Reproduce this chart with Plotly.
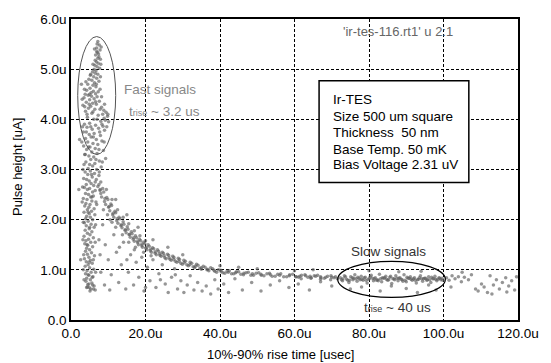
import plotly.graph_objects as go

# ---------------- data (rise time in usec, pulse height in uA) ----------------
fast_x = [7.2, 7.6, 6.9, 7.8, 7.1, 6.6, 7.5, 7.9, 6.8, 7.3, 6.4, 7.0, 7.7, 6.2, 6.7, 7.4, 8.1, 6.5, 7.2, 6.9,
          5.8, 6.5, 7.2, 5.2, 6.1, 6.9, 4.8, 5.6, 7.5, 6.3, 4.5, 5.9, 6.7, 5.1, 7.8, 4.2, 6.0, 5.4, 6.6, 3.8,
          4.6, 5.5, 7.0, 3.5, 6.2, 5.0, 7.6, 4.1, 5.8, 6.8, 3.2, 5.3, 8.2, 4.7, 6.4, 8.8, 3.9, 9.4, 5.6, 8.5,
          7.3, 9.8, 4.4, 8.9, 6.1, 9.2, 8.0, 10.1,
          5.0, 3.6, 6.6, 8.6, 4.3, 7.4, 5.7, 9.0, 3.3, 6.2, 4.9, 7.9, 5.4, 3.9, 6.8, 8.3, 4.5, 5.9, 7.2, 3.4,
          5.1, 6.5, 4.2, 8.7, 5.6, 7.0, 3.7, 4.8, 6.1, 9.3, 5.3, 7.6, 4.0, 6.4, 3.5, 5.8, 8.1, 4.6, 6.9]
fast_y = [5.55, 5.48, 5.42, 5.38, 5.33, 5.28, 5.25, 5.20, 5.15, 5.12, 5.08, 5.05, 5.02, 5.00, 4.97, 5.30, 5.44, 5.18, 5.22, 5.35,
          4.95, 4.92, 4.90, 4.88, 4.85, 4.82, 4.80, 4.78, 4.76, 4.73, 4.70, 4.68, 4.65, 4.62, 4.60, 4.58, 4.56, 4.53, 4.51, 4.50,
          4.48, 4.46, 4.45, 4.43, 4.41, 4.39, 4.36, 4.34, 4.32, 4.30, 4.28, 4.26, 4.24, 4.22, 4.20, 4.18, 4.16, 4.14, 4.12, 4.10,
          4.08, 4.06, 4.04, 4.02, 4.00, 3.98, 3.96, 3.95,
          3.92, 3.90, 3.88, 3.86, 3.84, 3.82, 3.80, 3.78, 3.75, 3.72, 3.70, 3.68, 3.65, 3.62, 3.60, 3.57, 3.55, 3.52, 3.50, 3.47,
          3.45, 3.42, 3.40, 3.38, 3.35, 3.32, 3.30, 3.27, 3.25, 3.22, 3.20, 3.17, 3.15, 3.12, 3.10, 3.07, 3.05, 3.02, 3.00]

fast2_x = [6.3, 7.0, 5.9, 8.0, 5.3, 7.9, 4.0, 6.8, 3.6, 7.3, 5.0, 8.2, 3.0, 6.6, 4.9, 9.0, 3.7, 7.8, 5.9, 9.9,
           4.3, 7.0, 8.3, 3.1, 5.3, 9.6, 4.1, 7.7, 6.0, 2.9, 8.9, 4.7, 7.5, 3.8, 6.7, 5.0, 8.4, 3.2, 7.6, 5.5,
           4.2, 6.5, 3.1, 7.8, 5.6, 3.0, 6.9, 4.6, 3.3, 6.6, 5.0, 3.2, 6.5, 4.3, 3.4, 6.0, 4.9, 3.3, 6.6, 4.6,
           3.5, 5.7, 4.8, 6.0, 5.1, 4.2]
fast2_y = [5.40, 5.50, 5.10, 5.10, 4.90, 4.85, 4.75, 4.70, 4.60, 4.55, 4.50, 4.45, 4.40, 4.35, 4.30, 4.30, 4.25, 4.20, 4.15, 4.10,
           4.10, 4.00, 3.90, 3.85, 3.85, 3.85, 3.75, 3.75, 3.65, 3.55, 3.55, 3.45, 3.40, 3.30, 3.20, 3.10, 3.15, 3.00, 2.95, 2.90,
           2.80, 2.75, 2.65, 2.60, 2.45, 2.35, 2.30, 2.15, 1.95, 1.90, 1.85, 1.60, 1.55, 1.50, 1.30, 1.20, 1.15, 1.00, 0.95, 0.90,
           0.80, 0.85, 0.72, 0.62, 0.58, 0.65]

stem_x = [5.2, 3.8, 6.3, 4.5, 7.5, 5.7, 3.4, 6.8, 4.9, 8.0, 5.4, 4.1, 6.1, 7.2, 3.6, 5.0, 4.4, 6.5, 5.8, 3.9,
          4.7, 6.0, 5.3, 3.3, 4.3, 5.6, 6.7, 4.0, 5.1, 3.7, 4.8, 6.2, 4.4, 5.5, 3.5, 4.9, 6.4, 4.2, 5.2, 3.9, 5.8,
          4.6, 3.6, 5.4, 4.1, 6.2, 4.9, 3.8, 5.6, 4.4, 5.1, 3.5, 6.0, 4.7, 4.0, 5.3, 3.7, 4.5, 5.8, 4.2, 5.0,
          3.9, 5.5, 4.4, 6.3, 4.8, 3.6, 5.2, 4.1, 5.7, 4.6, 3.8, 5.0, 6.1, 4.3, 5.4, 3.9, 4.8, 5.9, 4.2, 5.2,
          4.0, 5.6, 4.5, 6.2, 4.9, 5.3, 6.5, 4.4, 5.8, 2.3, 2.6, 2.1, 2.8]
stem_y = [2.97, 2.95, 2.92, 2.90, 2.88, 2.85, 2.82, 2.80, 2.77, 2.75, 2.72, 2.70, 2.68, 2.66, 2.64, 2.62, 2.60, 2.58, 2.55, 2.52,
          2.50, 2.47, 2.45, 2.42, 2.40, 2.37, 2.35, 2.32, 2.30, 2.27, 2.25, 2.22, 2.20, 2.17, 2.15, 2.12, 2.10, 2.07, 2.05, 2.02, 2.00,
          1.97, 1.94, 1.91, 1.88, 1.85, 1.82, 1.79, 1.76, 1.73, 1.70, 1.67, 1.64, 1.61, 1.58, 1.55, 1.52, 1.49, 1.46, 1.43, 1.40,
          1.37, 1.34, 1.31, 1.28, 1.25, 1.22, 1.19, 1.16, 1.13, 1.10, 1.07, 1.04, 1.01, 0.98, 0.95, 0.92, 0.89, 0.86, 0.83, 0.80,
          0.77, 0.74, 0.71, 0.68, 0.65, 0.62, 0.60, 0.66, 0.70, 3.60, 1.20, 2.60, 4.70]

decay_x = [7.5, 8.2, 8.8, 9.3, 9.9, 10.4, 10.9, 11.5, 12.0, 12.6, 13.1, 13.7, 14.2, 14.8, 15.3, 15.9, 16.4, 17.0, 17.6, 18.1,
           18.7, 19.2, 19.8, 20.4, 21.0, 21.6, 22.2, 22.9, 23.5, 24.2, 24.8, 25.5, 26.2, 26.9, 27.6, 28.4, 29.1, 29.9, 30.7, 31.5,
           32.4, 33.2, 34.1, 35.0, 36.0, 37.0, 38.0, 39.1, 40.2, 41.3, 42.5, 43.7, 45.0, 46.3, 47.6, 49.0, 50.4, 51.8, 53.3, 54.8,
           56.3, 57.9, 59.5, 61.1, 62.8, 64.5, 66.2, 68.0, 69.8, 71.5]
decay_y = [2.70, 2.45, 2.55, 2.30, 2.40, 2.18, 2.28, 2.05, 2.14, 1.93, 2.02, 1.84, 1.91, 1.74, 1.81, 1.65, 1.72, 1.57, 1.64, 1.50,
           1.58, 1.45, 1.52, 1.40, 1.47, 1.35, 1.42, 1.30, 1.37, 1.27, 1.33, 1.22, 1.29, 1.19, 1.25, 1.15, 1.21, 1.11, 1.17, 1.08,
           1.13, 1.04, 1.09, 1.01, 1.05, 0.98, 1.02, 0.95, 0.99, 0.93, 0.98, 0.92, 0.96, 0.90, 0.95, 0.89, 0.94, 0.88, 0.93, 0.87,
           0.92, 0.86, 0.91, 0.85, 0.90, 0.84, 0.89, 0.83, 0.88, 0.82]

decay2_x = [7.8, 8.5, 9.0, 9.6, 10.1, 10.7, 11.2, 11.8, 12.3, 12.9, 13.4, 14.0, 14.5, 15.1, 15.6, 16.2, 16.7, 17.3, 17.9, 18.4,
            19.0, 19.5, 20.1, 20.7, 21.3, 21.9, 22.6, 23.2, 23.9, 24.5, 25.2, 25.9, 26.6, 27.3, 28.0, 28.8, 29.5, 30.3, 31.1, 32.0,
            32.8, 33.7, 34.6, 35.5, 36.5, 37.5, 38.6, 39.6, 40.8, 41.9, 43.1, 44.4, 45.6, 47.0, 48.3, 49.7, 51.1, 52.6, 54.0, 55.5,
            57.1, 58.7, 60.3, 61.9, 63.6, 65.3, 67.1, 68.9, 70.6]
decay2_y = [2.58, 2.62, 2.36, 2.44, 2.25, 2.31, 2.10, 2.17, 1.98, 2.05, 1.88, 1.96, 1.79, 1.86, 1.70, 1.76, 1.61, 1.68, 1.54, 1.61,
            1.48, 1.55, 1.43, 1.50, 1.38, 1.44, 1.33, 1.40, 1.29, 1.35, 1.24, 1.31, 1.21, 1.27, 1.17, 1.23, 1.13, 1.19, 1.10, 1.15,
            1.06, 1.11, 1.03, 1.07, 1.00, 1.04, 0.97, 1.00, 0.94, 0.97, 0.92, 0.96, 0.91, 0.94, 0.89, 0.93, 0.89, 0.92, 0.87, 0.91,
            0.86, 0.90, 0.86, 0.89, 0.85, 0.88, 0.84, 0.87, 0.84]

decay3_x = [8.0, 9.1, 10.2, 11.3, 12.4, 13.5, 14.6, 15.7, 16.8, 17.9, 19.0, 20.2, 21.4, 22.6, 23.8, 25.0, 26.3, 27.6, 29.0, 30.4,
            31.9, 33.4, 35.0, 36.7, 38.4, 40.3, 42.2, 44.2, 46.4, 48.7, 51.0, 53.5, 56.0, 58.6, 61.4, 64.2, 67.0, 70.0,
            9.5, 11.0, 12.5, 14.0, 15.5, 17.0, 18.5, 20.0, 8.7, 10.5, 12.0, 13.8, 15.5, 17.3, 19.5, 21.5]
decay3_y = [2.52, 2.42, 2.26, 2.13, 2.02, 1.90, 1.80, 1.71, 1.64, 1.57, 1.51, 1.45, 1.41, 1.36, 1.32, 1.28, 1.24, 1.21, 1.17, 1.14,
            1.10, 1.07, 1.04, 1.01, 0.99, 0.96, 0.95, 0.94, 0.93, 0.92, 0.91, 0.90, 0.89, 0.88, 0.87, 0.87, 0.86, 0.85,
            2.60, 2.40, 2.20, 2.05, 1.92, 1.78, 1.68, 1.58, 2.20, 2.00, 1.85, 1.70, 1.55, 1.45, 1.35, 1.28]

slow_x = [72.3, 72.9, 73.4, 74.0, 74.6, 75.1, 75.7, 76.2, 76.8, 77.3, 77.9, 78.4, 79.0, 79.5, 80.1, 80.6, 81.2, 81.7, 82.3, 82.8,
          83.4, 83.9, 84.5, 85.0, 85.6, 86.1, 86.7, 87.2, 87.8, 88.3, 88.9, 89.4, 90.0, 90.5, 91.1, 91.6, 92.2, 92.7, 93.3, 93.8,
          94.4, 94.9, 95.5, 96.0, 96.6, 97.1, 97.7, 98.2, 98.8, 99.3,
          72.6, 73.7, 74.8, 75.9, 77.0, 78.1, 79.2, 80.3, 81.4, 82.5, 83.6, 84.7, 85.8, 86.9, 88.0, 89.1, 90.2, 91.3, 92.4, 93.5,
          94.6, 95.7, 96.8, 97.9, 99.0, 99.8]
slow_y = [0.84, 0.78, 0.88, 0.81, 0.75, 0.86, 0.80, 0.90, 0.77, 0.83, 0.87, 0.79, 0.85, 0.74, 0.82, 0.89, 0.78, 0.84, 0.80, 0.91,
          0.76, 0.83, 0.87, 0.79, 0.85, 0.73, 0.82, 0.88, 0.78, 0.84, 0.80, 0.90, 0.76, 0.83, 0.86, 0.79, 0.84, 0.74, 0.81, 0.88,
          0.77, 0.83, 0.79, 0.86, 0.75, 0.82, 0.87, 0.78, 0.84, 0.80,
          0.80, 0.86, 0.79, 0.83, 0.85, 0.81, 0.79, 0.86, 0.82, 0.78, 0.84, 0.81, 0.87, 0.80, 0.83, 0.77, 0.85, 0.81, 0.79, 0.84,
          0.82, 0.80, 0.85, 0.81, 0.83, 0.79]

slow2_x = [60.5, 61.8, 63.0, 64.4, 65.7, 67.0, 68.4, 69.7, 71.0, 73.0, 74.3, 75.5, 76.5, 77.6, 78.7, 79.8, 80.9, 82.0, 83.1, 84.2,
           85.3, 86.4, 87.5, 88.6, 89.7, 90.8, 91.9, 93.0, 94.1, 95.2, 96.3, 97.4, 98.5, 99.6]
slow2_y = [0.86, 0.82, 0.88, 0.83, 0.87, 0.81, 0.85, 0.80, 0.86, 0.82, 0.79, 0.84, 0.82, 0.80, 0.84, 0.81, 0.83, 0.79, 0.82, 0.84,
           0.80, 0.82, 0.83, 0.81, 0.79, 0.83, 0.82, 0.80, 0.82, 0.83, 0.80, 0.82, 0.81, 0.83]

sparse_x = [8.5, 9.2, 10.0, 10.8, 11.5, 12.2, 12.8, 13.5, 14.1, 14.7, 15.4, 16.0, 16.8, 17.5, 18.2, 19.0, 19.6, 20.5, 21.2, 22.0,
            22.8, 23.6, 24.5, 25.3, 26.1, 27.0, 27.8, 28.6, 29.5, 30.3, 31.2, 32.0, 33.0, 34.0, 35.2, 36.3, 37.5, 38.6, 39.5, 41.0,
            42.3, 44.0, 46.0, 48.5, 51.0, 53.5, 56.0, 58.5, 61.0, 64.0, 67.0, 70.0, 9.8, 11.0, 13.0, 15.0, 17.0, 20.0, 24.0, 28.0,
            10.4, 7.5, 8.0, 7.8, 9.0, 12.0, 15.0, 18.0, 22.0, 26.0, 30.0, 40.0, 50.0, 60.0, 65.0, 45.0,
            75.0, 78.0, 83.0, 86.0, 90.0, 93.0, 96.0, 98.0, 88.0, 80.0, 94.0]
sparse_y = [1.90, 1.50, 1.20, 0.90, 1.70, 1.35, 0.75, 1.10, 1.55, 0.62, 0.95, 1.30, 0.70, 1.15, 0.85, 1.25, 0.58, 1.05, 0.78, 1.20,
            0.65, 0.92, 1.10, 0.72, 0.55, 0.85, 1.02, 0.62, 0.78, 0.55, 0.70, 0.88, 0.60, 0.75, 0.58, 0.68, 0.52, 0.80, 0.62, 0.72,
            0.55, 0.82, 0.60, 0.75, 0.58, 0.70, 0.78, 0.65, 0.72, 0.60, 0.76, 0.68, 2.10, 1.95, 1.45, 1.20, 1.40, 0.65, 0.80, 0.90,
            0.60, 1.60, 0.95, 1.30, 0.70, 2.40, 2.10, 1.85, 1.60, 1.45, 1.30, 1.08, 1.02, 0.98, 1.00, 1.05,
            0.62, 0.66, 0.58, 0.68, 0.63, 0.55, 0.70, 0.60, 0.96, 0.98, 0.97]

far_x = [100.8, 101.5, 102.3, 103.1, 104.0, 104.8, 105.6, 106.7, 107.5, 108.6, 109.3, 110.2, 110.9, 111.8, 112.5, 113.4,
         114.2, 115.0, 115.8, 116.7, 117.5, 118.3, 119.1, 119.6, 105.0, 113.0, 102.0, 117.0]
far_y = [0.84, 0.79, 0.88, 0.82, 0.86, 0.76, 0.85, 0.80, 0.90, 0.62, 0.58, 0.72, 0.66, 0.55, 0.88, 0.70,
         0.80, 0.62, 0.75, 0.84, 0.68, 0.78, 0.60, 0.86, 0.95, 0.52, 0.66, 0.56]

x_tickvals = [0, 20, 40, 60, 80, 100, 120]
x_ticktext = ["0.0", "20.0u", "40.0u", "60.0u", "80.0u", "100.0u", "120.0u"]
y_tickvals = [0, 1, 2, 3, 4, 5, 6]
y_ticktext = ["0.0", "1.0u", "2.0u", "3.0u", "4.0u", "5.0u", "6.0u"]

info_lines = ["Ir-TES", "Size 500 um square", "Thickness  50 nm", "Base Temp. 50 mK", "Bias Voltage 2.31 uV"]

# ---------------- figure ----------------
FONT = "Liberation Sans, Arial, sans-serif"
fig = go.Figure()
groups = [(fast_x, fast_y), (fast2_x, fast2_y), (stem_x, stem_y), (decay_x, decay_y), (decay2_x, decay2_y),
          (decay3_x, decay3_y), (slow_x, slow_y), (slow2_x, slow2_y), (sparse_x, sparse_y), (far_x, far_y)]
for gx, gy in groups:
    fig.add_trace(go.Scatter(x=gx, y=gy, mode="markers",
                             marker=dict(size=3.5, color="#5e5e5e", opacity=0.65, line=dict(width=0)),
                             showlegend=False, hoverinfo="skip"))

axis_common = dict(showline=True, linecolor="black", linewidth=1.5, mirror=True,
                   showgrid=True, gridcolor="black", gridwidth=1, griddash="3px,2px",
                   zeroline=False, ticks="", tickfont=dict(family=FONT, size=13.5, color="black"))
fig.update_xaxes(range=[0, 120], tickvals=x_tickvals, ticktext=x_ticktext, **axis_common)
fig.update_yaxes(range=[0, 6], tickvals=y_tickvals, ticktext=y_ticktext, **axis_common)

shapes = [
    dict(type="circle", xref="x", yref="y", x0=1.8, x1=12.0, y0=3.3, y1=5.65,
         line=dict(color="#555", width=1)),
    dict(type="circle", xref="x", yref="y", x0=71.6, x1=100.5, y0=0.45, y1=1.17,
         line=dict(color="black", width=1.2)),
    dict(type="rect", xref="x", yref="y", x0=66.6, x1=106.8, y0=2.74, y1=4.77,
         line=dict(color="black", width=1.5), fillcolor="white", layer="above"),
]
annotations = []
line_y = [4.40, 4.06, 3.73, 3.40, 3.09]
for txt, yy in zip(info_lines, line_y):
    annotations.append(dict(x=69.9, y=yy, xref="x", yref="y", text=txt, showarrow=False,
                            xanchor="left", yanchor="middle",
                            font=dict(family=FONT, size=13.5, color="black")))
SMALL = "<span style='font-size:9px'>rise</span>"
annotations += [
    dict(x=72.6, y=5.76, xref="x", yref="y", text="'ir-tes-116.rt1' u 2:1", showarrow=False,
         xanchor="left", yanchor="middle", font=dict(family=FONT, size=13, color="#666")),
    dict(x=13.7, y=4.59, xref="x", yref="y", text="Fast signals", showarrow=False,
         xanchor="left", yanchor="middle", font=dict(family=FONT, size=13.5, color="#888")),
    dict(x=15.0, y=4.16, xref="x", yref="y", text="t" + SMALL + " ~ 3.2 us", showarrow=False,
         xanchor="left", yanchor="middle", font=dict(family=FONT, size=13.5, color="#888")),
    dict(x=74.7, y=1.37, xref="x", yref="y", text="Slow signals", showarrow=False,
         xanchor="left", yanchor="middle", font=dict(family=FONT, size=13.5, color="#333")),
    dict(x=78.2, y=0.24, xref="x", yref="y", text="t" + SMALL + " ~ 40 us", showarrow=False,
         xanchor="left", yanchor="middle", font=dict(family=FONT, size=13.5, color="#333")),
    dict(x=56.3, y=0, xref="x", yref="paper", yshift=-34, text="10%-90% rise time [usec]",
         showarrow=False, xanchor="center", yanchor="middle",
         font=dict(family=FONT, size=13, color="black")),
    dict(x=0, y=3.05, xref="paper", yref="y", xshift=-53, text="Pulse height [uA]", textangle=-90,
         showarrow=False, xanchor="center", yanchor="middle",
         font=dict(family=FONT, size=13, color="black")),
]

fig.update_layout(width=551, height=363, margin=dict(l=71, r=24, t=13, b=43),
                  plot_bgcolor="white", paper_bgcolor="white",
                  shapes=shapes, annotations=annotations, font=dict(family=FONT))
fig.write_html("out.html")
